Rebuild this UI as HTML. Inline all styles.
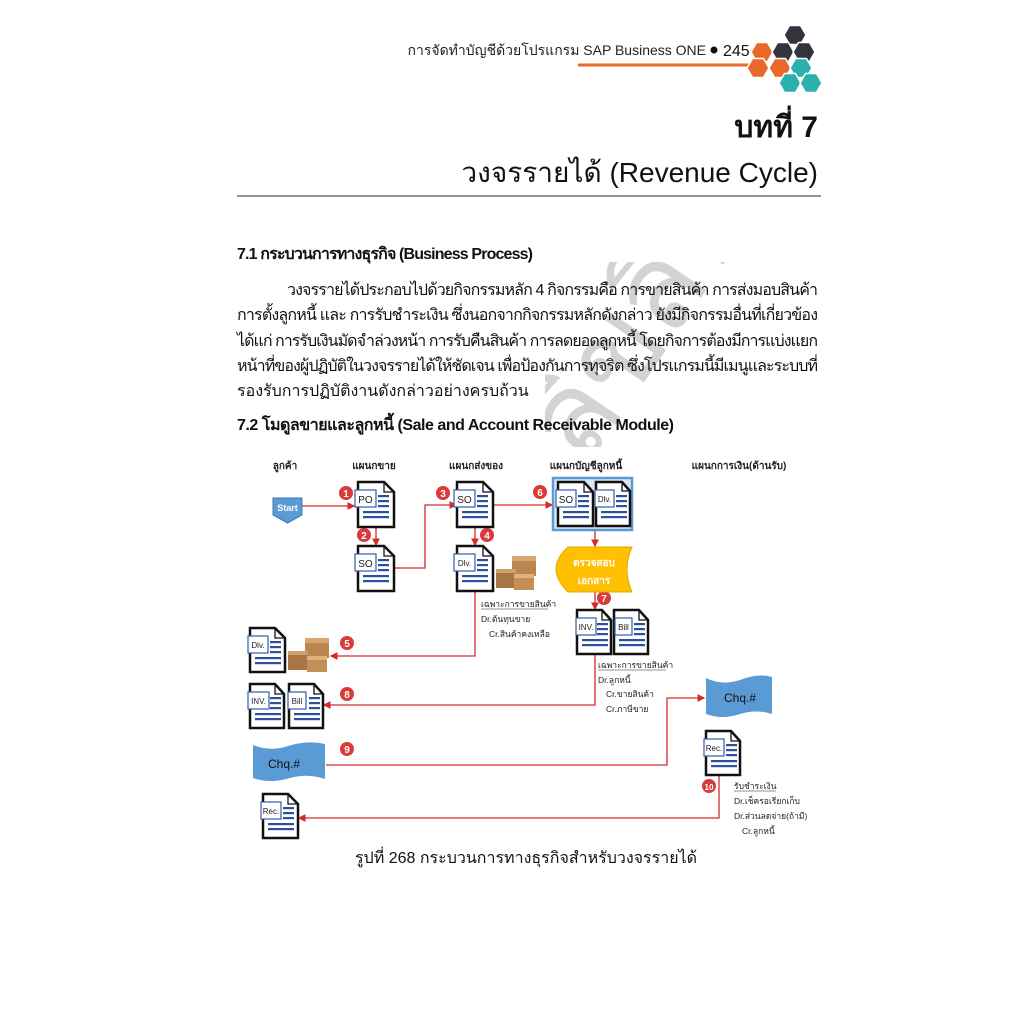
<!DOCTYPE html>
<html><head><meta charset="utf-8"><style>
html,body{margin:0;padding:0;background:#fff;}
svg{display:block}
text{font-family:"Liberation Sans","Noto Sans CJK SC",sans-serif;}
</style></head><body>
<svg width="1024" height="1024" viewBox="0 0 1024 1024" xmlns="http://www.w3.org/2000/svg">
<defs>
<marker id="ah" markerWidth="6" markerHeight="6" refX="5" refY="3" orient="auto"><path d="M0,0 L6,3 L0,6 Z" fill="#d42a2a"/></marker>
<clipPath id="wm"><rect x="545" y="262" width="215" height="185"/></clipPath>
</defs>
<rect width="1024" height="1024" fill="#fff"/>
<!-- header -->
<text x="706" y="55" font-size="14" text-anchor="end" fill="#222">การจัดทำบัญชีด้วยโปรแกรม SAP Business ONE</text>
<circle cx="714" cy="50" r="3.5" fill="#111"/>
<text x="723" y="56" font-size="16" fill="#111">245</text>
<line x1="578" y1="65" x2="758" y2="65" stroke="#e8692a" stroke-width="3"/>
<g stroke="#fff" stroke-width="1.5">
<polygon points="806,35 800.5,44.5 789.5,44.5 784,35 789.5,25.5 800.5,25.5" fill="#33333d"/>
<polygon points="773,52 767.5,61.5 756.5,61.5 751,52 756.5,42.5 767.5,42.5" fill="#e8692a"/>
<polygon points="794,52 788.5,61.5 777.5,61.5 772,52 777.5,42.5 788.5,42.5" fill="#33333d"/>
<polygon points="815,52 809.5,61.5 798.5,61.5 793,52 798.5,42.5 809.5,42.5" fill="#33333d"/>
<polygon points="769,68 763.5,77.5 752.5,77.5 747,68 752.5,58.5 763.5,58.5" fill="#e8692a"/>
<polygon points="791,68 785.5,77.5 774.5,77.5 769,68 774.5,58.5 785.5,58.5" fill="#e8692a"/>
<polygon points="812,68 806.5,77.5 795.5,77.5 790,68 795.5,58.5 806.5,58.5" fill="#2bb0ad"/>
<polygon points="801,83 795.5,92.5 784.5,92.5 779,83 784.5,73.5 795.5,73.5" fill="#2bb0ad"/>
<polygon points="822,83 816.5,92.5 805.5,92.5 800,83 805.5,73.5 816.5,73.5" fill="#2bb0ad"/>
</g>
<text x="818" y="137" font-size="30" font-weight="bold" text-anchor="end" fill="#111">บทที่ 7</text>
<text x="818" y="182" font-size="28" text-anchor="end" fill="#111">วงจรรายได้ (Revenue Cycle)</text>
<line x1="237" y1="196" x2="821" y2="196" stroke="#555" stroke-width="1.2"/>
<!-- watermark -->
<g clip-path="url(#wm)">
<text x="0" y="0" font-size="120" fill="#cccccc" opacity="0.85" transform="translate(585,470) rotate(-56)">ลิขสิทธิ์</text>
</g>
<!-- body -->
<g font-size="16" fill="#111">
<text x="237" y="259" font-weight="bold" textLength="296">7.1 กระบวนการทางธุรกิจ (Business Process)</text>
<text x="287" y="295" textLength="531" lengthAdjust="spacing">วงจรรายได้ประกอบไปด้วยกิจกรรมหลัก 4 กิจกรรมคือ การขายสินค้า การส่งมอบสินค้า</text>
<text x="237" y="320" textLength="581" lengthAdjust="spacing">การตั้งลูกหนี้ และ การรับชำระเงิน ซึ่งนอกจากกิจกรรมหลักดังกล่าว ยังมีกิจกรรมอื่นที่เกี่ยวข้อง</text>
<text x="237" y="346" textLength="581" lengthAdjust="spacing">ได้แก่ การรับเงินมัดจำล่วงหน้า การรับคืนสินค้า การลดยอดลูกหนี้ โดยกิจการต้องมีการแบ่งแยก</text>
<text x="237" y="371" textLength="581" lengthAdjust="spacing">หน้าที่ของผู้ปฏิบัติในวงจรรายได้ให้ชัดเจน เพื่อป้องกันการทุจริต ซึ่งโปรแกรมนี้มีเมนูและระบบที่</text>
<text x="237" y="396">รองรับการปฏิบัติงานดังกล่าวอย่างครบถ้วน</text>
<text x="237" y="430" font-weight="bold" textLength="437">7.2 โมดูลขายและลูกหนี้ (Sale and Account Receivable Module)</text>
</g>
<!-- column headers -->
<g font-size="10" font-weight="bold" fill="#222" text-anchor="middle">
<text x="285" y="469">ลูกค้า</text>
<text x="374" y="469">แผนกขาย</text>
<text x="476" y="469">แผนกส่งของ</text>
<text x="586" y="469">แผนกบัญชีลูกหนี้</text>
<text x="739" y="469">แผนกการเงิน(ด้านรับ)</text>
</g>
<!-- connectors -->
<g stroke="#d42a2a" stroke-width="1.3" fill="none" marker-end="url(#ah)">
<path d="M302,506 H354"/>
<path d="M376,527 V545"/>
<path d="M394,568 H425 V505 H456"/>
<path d="M493,505 H552"/>
<path d="M475,527 V545"/>
<path d="M475,592 V656 H331"/>
<path d="M595,531 V546"/>
<path d="M595,592 V609"/>
<path d="M595,655 V705 H324"/>
<path d="M326,765 H667 V698 H704"/>
<path d="M719,776 V818 H299"/>
</g>
<!-- number circles -->
<g font-size="10" font-weight="bold" fill="#fff" text-anchor="middle">
<circle cx="346" cy="493" r="7" fill="#d93a3a"/><text x="346" y="497">1</text>
<circle cx="364" cy="535" r="7" fill="#d93a3a"/><text x="364" y="539">2</text>
<circle cx="443" cy="493" r="7" fill="#d93a3a"/><text x="443" y="497">3</text>
<circle cx="487" cy="535" r="7" fill="#d93a3a"/><text x="487" y="539">4</text>
<circle cx="347" cy="643" r="7" fill="#d93a3a"/><text x="347" y="647">5</text>
<circle cx="540" cy="492" r="7" fill="#d93a3a"/><text x="540" y="496">6</text>
<circle cx="604" cy="598" r="7" fill="#d93a3a"/><text x="604" y="602">7</text>
<circle cx="347" cy="694" r="7" fill="#d93a3a"/><text x="347" y="698">8</text>
<circle cx="347" cy="749" r="7" fill="#d93a3a"/><text x="347" y="753">9</text>
<circle cx="709" cy="786" r="7" fill="#d93a3a"/><text x="709" y="790" font-size="8">10</text>
</g>
<!-- start -->
<path d="M273,498 H302 V515 L287.5,523 L273,515 Z" fill="#5b9bd5" stroke="#3d78b0"/>
<text x="287.5" y="511" font-size="9" font-weight="bold" fill="#fff" text-anchor="middle">Start</text>
<!-- blue box -->
<rect x="553" y="478" width="79" height="52" fill="#dbe7f5" stroke="#5b9bd5" stroke-width="2.5"/>
<!-- documents -->
<g>
<g transform="translate(358,482)"><path d="M0,0 H26 L36,10 V45 H0 Z" fill="#fff" stroke="#111" stroke-width="2.5"/><path d="M26,0 V10 H36" fill="none" stroke="#111" stroke-width="1.3"/><g fill="#2e4f9e"><rect x="20" y="13" width="11" height="2.2"/><rect x="20" y="18" width="11" height="2.2"/><rect x="20" y="23" width="11" height="2.2"/><rect x="5" y="29" width="26" height="2.2"/><rect x="5" y="34" width="26" height="2.2"/></g><rect x="-3" y="8" width="21" height="17" fill="#fff" stroke="#2e5fa8" stroke-width="1.2"/><text x="7.5" y="21" font-size="10" text-anchor="middle" fill="#222">PO</text></g>
<g transform="translate(358,546)"><path d="M0,0 H26 L36,10 V45 H0 Z" fill="#fff" stroke="#111" stroke-width="2.5"/><path d="M26,0 V10 H36" fill="none" stroke="#111" stroke-width="1.3"/><g fill="#2e4f9e"><rect x="20" y="13" width="11" height="2.2"/><rect x="20" y="18" width="11" height="2.2"/><rect x="20" y="23" width="11" height="2.2"/><rect x="5" y="29" width="26" height="2.2"/><rect x="5" y="34" width="26" height="2.2"/></g><rect x="-3" y="8" width="21" height="17" fill="#fff" stroke="#2e5fa8" stroke-width="1.2"/><text x="7.5" y="21" font-size="10" text-anchor="middle" fill="#222">SO</text></g>
<g transform="translate(457,482)"><path d="M0,0 H26 L36,10 V45 H0 Z" fill="#fff" stroke="#111" stroke-width="2.5"/><path d="M26,0 V10 H36" fill="none" stroke="#111" stroke-width="1.3"/><g fill="#2e4f9e"><rect x="20" y="13" width="11" height="2.2"/><rect x="20" y="18" width="11" height="2.2"/><rect x="20" y="23" width="11" height="2.2"/><rect x="5" y="29" width="26" height="2.2"/><rect x="5" y="34" width="26" height="2.2"/></g><rect x="-3" y="8" width="21" height="17" fill="#fff" stroke="#2e5fa8" stroke-width="1.2"/><text x="7.5" y="21" font-size="10" text-anchor="middle" fill="#222">SO</text></g>
<g transform="translate(457,546)"><path d="M0,0 H26 L36,10 V45 H0 Z" fill="#fff" stroke="#111" stroke-width="2.5"/><path d="M26,0 V10 H36" fill="none" stroke="#111" stroke-width="1.3"/><g fill="#2e4f9e"><rect x="20" y="13" width="11" height="2.2"/><rect x="20" y="18" width="11" height="2.2"/><rect x="20" y="23" width="11" height="2.2"/><rect x="5" y="29" width="26" height="2.2"/><rect x="5" y="34" width="26" height="2.2"/></g><rect x="-3" y="8" width="21" height="17" fill="#fff" stroke="#2e5fa8" stroke-width="1.2"/><text x="7.5" y="20" font-size="8" text-anchor="middle" fill="#222">Dlv.</text></g>
<g transform="translate(558,482)"><path d="M0,0 H26 L35,10 V44 H0 Z" fill="#fff" stroke="#111" stroke-width="2.5"/><path d="M26,0 V10 H35" fill="none" stroke="#111" stroke-width="1.3"/><g fill="#2e4f9e"><rect x="20" y="13" width="11" height="2.2"/><rect x="20" y="18" width="11" height="2.2"/><rect x="20" y="23" width="11" height="2.2"/><rect x="5" y="29" width="26" height="2.2"/><rect x="5" y="34" width="26" height="2.2"/></g><rect x="-2" y="8" width="20" height="17" fill="#fff" stroke="#2e5fa8" stroke-width="1.2"/><text x="8" y="21" font-size="10" text-anchor="middle" fill="#222">SO</text></g>
<g transform="translate(596,482)"><path d="M0,0 H26 L34,9 V44 H0 Z" fill="#fff" stroke="#111" stroke-width="2.5"/><path d="M26,0 V9 H34" fill="none" stroke="#111" stroke-width="1.3"/><g fill="#2e4f9e"><rect x="20" y="13" width="11" height="2.2"/><rect x="20" y="18" width="11" height="2.2"/><rect x="20" y="23" width="11" height="2.2"/><rect x="5" y="29" width="26" height="2.2"/><rect x="5" y="34" width="26" height="2.2"/></g><rect x="-1" y="8" width="19" height="17" fill="#fff" stroke="#2e5fa8" stroke-width="1.2"/><text x="8.5" y="20" font-size="8" text-anchor="middle" fill="#222">Dlv.</text></g>
<g transform="translate(577,610)"><path d="M0,0 H25 L34,10 V44 H0 Z" fill="#fff" stroke="#111" stroke-width="2.5"/><path d="M25,0 V10 H34" fill="none" stroke="#111" stroke-width="1.3"/><g fill="#2e4f9e"><rect x="20" y="13" width="11" height="2.2"/><rect x="20" y="18" width="11" height="2.2"/><rect x="20" y="23" width="11" height="2.2"/><rect x="5" y="29" width="26" height="2.2"/><rect x="5" y="34" width="26" height="2.2"/></g><rect x="-1" y="8" width="20" height="17" fill="#fff" stroke="#2e5fa8" stroke-width="1.2"/><text x="9" y="20" font-size="8" text-anchor="middle" fill="#222">INV.</text></g>
<g transform="translate(614,610)"><path d="M0,0 H25 L34,10 V44 H0 Z" fill="#fff" stroke="#111" stroke-width="2.5"/><path d="M25,0 V10 H34" fill="none" stroke="#111" stroke-width="1.3"/><g fill="#2e4f9e"><rect x="20" y="13" width="11" height="2.2"/><rect x="20" y="18" width="11" height="2.2"/><rect x="20" y="23" width="11" height="2.2"/><rect x="5" y="29" width="26" height="2.2"/><rect x="5" y="34" width="26" height="2.2"/></g><rect x="1" y="8" width="17" height="17" fill="#fff" stroke="#2e5fa8" stroke-width="1.2"/><text x="9.5" y="20" font-size="8" text-anchor="middle" fill="#222">Bill</text></g>
<g transform="translate(250,628)"><path d="M0,0 H25 L35,10 V44 H0 Z" fill="#fff" stroke="#111" stroke-width="2.5"/><path d="M25,0 V10 H35" fill="none" stroke="#111" stroke-width="1.3"/><g fill="#2e4f9e"><rect x="20" y="13" width="11" height="2.2"/><rect x="20" y="18" width="11" height="2.2"/><rect x="20" y="23" width="11" height="2.2"/><rect x="5" y="29" width="26" height="2.2"/><rect x="5" y="34" width="26" height="2.2"/></g><rect x="-2" y="8" width="20" height="17" fill="#fff" stroke="#2e5fa8" stroke-width="1.2"/><text x="8" y="20" font-size="8" text-anchor="middle" fill="#222">Dlv.</text></g>
<g transform="translate(250,684)"><path d="M0,0 H25 L34,10 V44 H0 Z" fill="#fff" stroke="#111" stroke-width="2.5"/><path d="M25,0 V10 H34" fill="none" stroke="#111" stroke-width="1.3"/><g fill="#2e4f9e"><rect x="20" y="13" width="11" height="2.2"/><rect x="20" y="18" width="11" height="2.2"/><rect x="20" y="23" width="11" height="2.2"/><rect x="5" y="29" width="26" height="2.2"/><rect x="5" y="34" width="26" height="2.2"/></g><rect x="-2" y="8" width="21" height="17" fill="#fff" stroke="#2e5fa8" stroke-width="1.2"/><text x="8.5" y="20" font-size="8" text-anchor="middle" fill="#222">INV.</text></g>
<g transform="translate(289,684)"><path d="M0,0 H25 L34,10 V44 H0 Z" fill="#fff" stroke="#111" stroke-width="2.5"/><path d="M25,0 V10 H34" fill="none" stroke="#111" stroke-width="1.3"/><g fill="#2e4f9e"><rect x="20" y="13" width="11" height="2.2"/><rect x="20" y="18" width="11" height="2.2"/><rect x="20" y="23" width="11" height="2.2"/><rect x="5" y="29" width="26" height="2.2"/><rect x="5" y="34" width="26" height="2.2"/></g><rect x="-1" y="8" width="18" height="17" fill="#fff" stroke="#2e5fa8" stroke-width="1.2"/><text x="8" y="20" font-size="8" text-anchor="middle" fill="#222">Bill</text></g>
<g transform="translate(706,731)"><path d="M0,0 H25 L34,10 V44 H0 Z" fill="#fff" stroke="#111" stroke-width="2.5"/><path d="M25,0 V10 H34" fill="none" stroke="#111" stroke-width="1.3"/><g fill="#2e4f9e"><rect x="20" y="13" width="11" height="2.2"/><rect x="20" y="18" width="11" height="2.2"/><rect x="20" y="23" width="11" height="2.2"/><rect x="5" y="29" width="26" height="2.2"/><rect x="5" y="34" width="26" height="2.2"/></g><rect x="-2" y="8" width="20" height="17" fill="#fff" stroke="#2e5fa8" stroke-width="1.2"/><text x="8" y="20" font-size="8" text-anchor="middle" fill="#222">Rec.</text></g>
<g transform="translate(263,794)"><path d="M0,0 H25 L35,10 V44 H0 Z" fill="#fff" stroke="#111" stroke-width="2.5"/><path d="M25,0 V10 H35" fill="none" stroke="#111" stroke-width="1.3"/><g fill="#2e4f9e"><rect x="20" y="13" width="11" height="2.2"/><rect x="20" y="18" width="11" height="2.2"/><rect x="20" y="23" width="11" height="2.2"/><rect x="5" y="29" width="26" height="2.2"/><rect x="5" y="34" width="26" height="2.2"/></g><rect x="-2" y="8" width="20" height="17" fill="#fff" stroke="#2e5fa8" stroke-width="1.2"/><text x="8" y="20" font-size="8" text-anchor="middle" fill="#222">Rec.</text></g>
</g>
<!-- boxes -->
<g>
<rect x="512" y="556" width="24" height="20" fill="#b98550"/><rect x="512" y="556" width="24" height="5" fill="#d7a972"/>
<rect x="496" y="569" width="20" height="19" fill="#a87545"/><rect x="496" y="569" width="20" height="4" fill="#cfa06a"/>
<rect x="514" y="574" width="20" height="16" fill="#c48e57"/><rect x="514" y="574" width="20" height="4" fill="#e0b27c"/>
<rect x="305" y="638" width="24" height="20" fill="#b98550"/><rect x="305" y="638" width="24" height="5" fill="#d7a972"/>
<rect x="288" y="651" width="20" height="19" fill="#a87545"/><rect x="288" y="651" width="20" height="4" fill="#cfa06a"/>
<rect x="307" y="656" width="20" height="16" fill="#c48e57"/><rect x="307" y="656" width="20" height="4" fill="#e0b27c"/>
</g>
<!-- yellow display -->
<path d="M568,547 H632 Q622,569 632,592 H568 Q556,580 556,569 Q556,558 568,547 Z" fill="#ffc000" stroke="#e0a800"/>
<text x="594" y="566" font-size="10" font-weight="bold" fill="#fff" text-anchor="middle">ตรวจสอบ</text>
<text x="594" y="584" font-size="10" font-weight="bold" fill="#fff" text-anchor="middle">เอกสาร</text>
<!-- cheques -->
<path d="M253,745 Q270,752 288,746 Q308,740 325,744 V779 Q308,773 290,778 Q270,784 253,778 Z" fill="#5b9bd5"/>
<text x="284" y="768" font-size="12" fill="#111" text-anchor="middle">Chq.#</text>
<path d="M706,678 Q722,686 740,680 Q758,673 772,677 V714 Q757,709 740,714 Q722,720 706,714 Z" fill="#5b9bd5"/>
<text x="740" y="702" font-size="12" fill="#111" text-anchor="middle">Chq.#</text>
<!-- journal texts -->
<g font-size="8.5" fill="#222">
<text x="481" y="607">เฉพาะการขายสินค้า</text>
<line x1="481" y1="609" x2="548" y2="609" stroke="#222" stroke-width="0.6"/>
<text x="481" y="622">Dr.ต้นทุนขาย</text>
<text x="489" y="637">Cr.สินค้าคงเหลือ</text>
<text x="598" y="668">เฉพาะการขายสินค้า</text>
<line x1="598" y1="670" x2="666" y2="670" stroke="#222" stroke-width="0.6"/>
<text x="598" y="683">Dr.ลูกหนี้</text>
<text x="606" y="697">Cr.ขายสินค้า</text>
<text x="606" y="712">Cr.ภาษีขาย</text>
<text x="734" y="789">รับชำระเงิน</text>
<line x1="734" y1="791" x2="776" y2="791" stroke="#222" stroke-width="0.6"/>
<text x="734" y="804">Dr.เช็ครอเรียกเก็บ</text>
<text x="734" y="819">Dr.ส่วนลดจ่าย(ถ้ามี)</text>
<text x="742" y="834">Cr.ลูกหนี้</text>
</g>
<text x="526" y="863" font-size="16" fill="#111" text-anchor="middle">รูปที่ 268 กระบวนการทางธุรกิจสำหรับวงจรรายได้</text>
</svg>
</body></html>
